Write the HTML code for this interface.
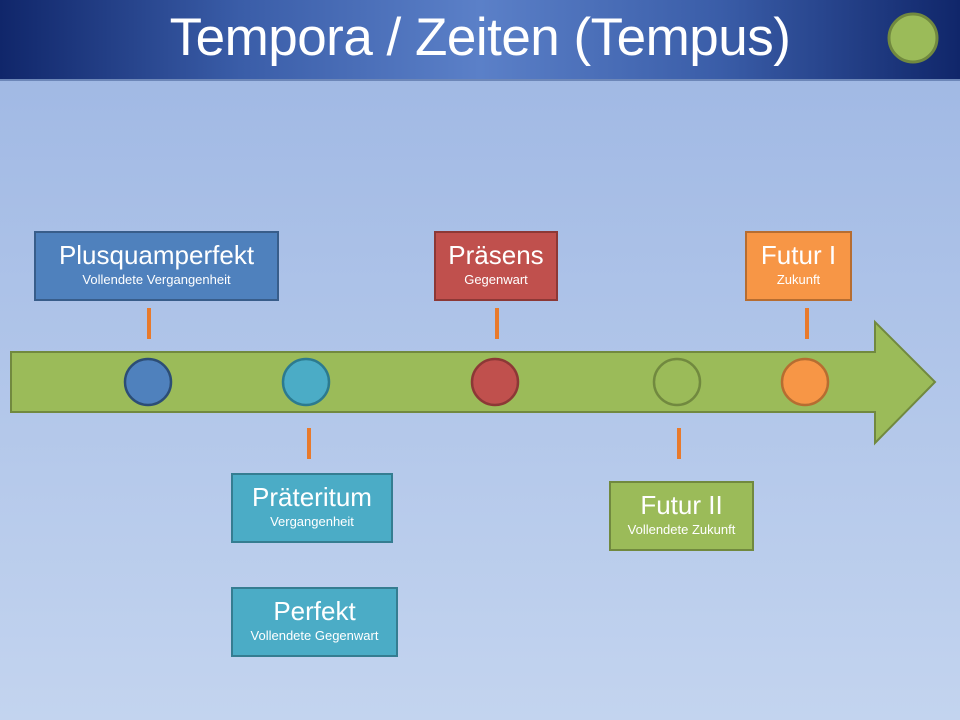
<!DOCTYPE html>
<html><head><meta charset="utf-8"><style>
body{margin:0;width:960px;height:720px;overflow:hidden;font-family:"Liberation Sans",sans-serif;background:linear-gradient(#9db6e3,#c3d4ef);position:relative}
.hdr{position:absolute;left:0;top:0;width:960px;height:79px;background:linear-gradient(90deg,#10266a 0%,#3a5da8 25%,#5b80c8 50%,#3a5da8 75%,#10266a 100%);border-bottom:2px solid #6d87b8}
.title{position:absolute;left:0;width:960px;top:8px;text-align:center;color:#fff;font-size:53px;line-height:60px;letter-spacing:-0.5px}
.box{position:absolute;box-sizing:border-box;border:2px solid;color:#fff;text-align:center}
.box .a{font-size:26px;line-height:30px;margin-top:7px}
.box .b{font-size:13px;line-height:16px;margin-top:2px}
</style></head><body>
<div class="hdr"></div>
<div class="title">Tempora / Zeiten (Tempus)</div>
<svg width="960" height="720" style="position:absolute;left:0;top:0">
<circle cx="913" cy="38" r="24" fill="#9bbb59" stroke="#71893f" stroke-width="3"/>
<polygon points="11,352 875,352 875,322 935,382 875,443 875,412 11,412" fill="#9bbb59" stroke="#71893f" stroke-width="2"/>
<circle cx="148" cy="382" r="23" fill="#4f81bd" stroke="#2c4d75" stroke-width="2.5"/>
<circle cx="306" cy="382" r="23" fill="#4bacc6" stroke="#2c7a8f" stroke-width="2.5"/>
<circle cx="495" cy="382" r="23" fill="#c0504d" stroke="#8c3836" stroke-width="2.5"/>
<circle cx="677" cy="382" r="23" fill="#9bbb59" stroke="#71893f" stroke-width="2.5"/>
<circle cx="805" cy="382" r="23" fill="#f79646" stroke="#b66d31" stroke-width="2.5"/>
<g stroke="#e87a2c" stroke-width="4">
<line x1="149" y1="308" x2="149" y2="339"/>
<line x1="497" y1="308" x2="497" y2="339"/>
<line x1="807" y1="308" x2="807" y2="339"/>
<line x1="309" y1="428" x2="309" y2="459"/>
<line x1="679" y1="428" x2="679" y2="459"/>
</g>
</svg>
<div class="box" style="left:34px;top:231px;width:245px;height:70px;background:#4f81bd;border-color:#385d8a"><div class="a">Plusquamperfekt</div><div class="b">Vollendete Vergangenheit</div></div>
<div class="box" style="left:434px;top:231px;width:124px;height:70px;background:#c0504d;border-color:#8c3836"><div class="a">Präsens</div><div class="b">Gegenwart</div></div>
<div class="box" style="left:745px;top:231px;width:107px;height:70px;background:#f79646;border-color:#b66d31"><div class="a">Futur I</div><div class="b">Zukunft</div></div>
<div class="box" style="left:231px;top:473px;width:162px;height:70px;background:#4bacc6;border-color:#357d91"><div class="a">Präteritum</div><div class="b">Vergangenheit</div></div>
<div class="box" style="left:609px;top:481px;width:145px;height:70px;background:#9bbb59;border-color:#71893f"><div class="a">Futur II</div><div class="b">Vollendete Zukunft</div></div>
<div class="box" style="left:231px;top:587px;width:167px;height:70px;background:#4bacc6;border-color:#357d91"><div class="a">Perfekt</div><div class="b">Vollendete Gegenwart</div></div>
</body></html>
